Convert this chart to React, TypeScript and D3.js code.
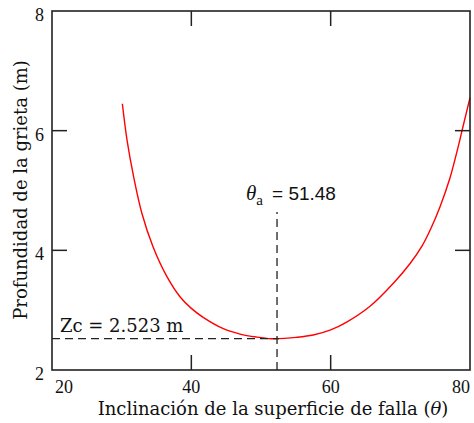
import React from 'react'
import * as d3 from 'd3'

// curva: inclinacion (grados) vs profundidad de grieta (m)
const theta = [30.1, 30.8, 31.7, 32.9, 34.5, 36.5, 38.4, 40, 41.7, 44.6, 47, 49.4, 51.48, 52.7, 55, 57.5, 60, 62.3, 65.6, 69, 71.4, 73.1, 74.4, 75.7, 77.1, 78.3, 79, 80]
const depth = [6.45, 5.82, 5.24, 4.62, 4.06, 3.56, 3.22, 3.03, 2.88, 2.69, 2.6, 2.55, 2.523, 2.525, 2.545, 2.585, 2.67, 2.8, 3.06, 3.45, 3.78, 4.07, 4.37, 4.73, 5.2, 5.73, 6.07, 6.55]

const xTicks = [20, 40, 60, 80]
const yTicks = [2, 4, 6, 8]

// marcadores
const zc = 2.523
const zcLabel = 'Zc = 2.523 m'
const thetaA = '51.48'
const thetaLineX = 52.3 // donde aparece la linea vertical en la figura
const thetaLineTop = 4.64

const W = 474
const H = 423
const frame = { left: 52, right: 470, top: 11, bottom: 370 }

export default function App() {
  const x = d3.scaleLinear().domain([20, 80]).range([frame.left, frame.right])
  const y = d3.scaleLinear().domain([2, 8]).range([frame.bottom, frame.top])

  const pts: [number, number][] = theta.map((t, i) => [t, depth[i]])
  const line = d3.line<[number, number]>()
    .x(d => x(d[0]))
    .y(d => y(d[1]))
    .curve(d3.curveCatmullRom)

  const tickLen = 15
  const serif = '"Liberation Serif", "Times New Roman", serif'
  const wide = '"DejaVu Serif", serif'

  return (
    <svg width={W} height={H} style={{ position: 'absolute', left: 0, top: 0, background: '#fff' }}>
      {/* curva */}
      <path d={line(pts) || ''} fill="none" stroke="#ff0000" strokeWidth={1.4} />

      {/* lineas de referencia */}
      <line x1={frame.left} x2={x(thetaLineX) + 2} y1={y(zc)} y2={y(zc)}
        stroke="#222" strokeWidth={1.3} strokeDasharray="8,5" />
      <line x1={x(thetaLineX)} x2={x(thetaLineX)} y1={frame.bottom} y2={y(thetaLineTop)}
        stroke="#222" strokeWidth={1.3} strokeDasharray="8,5" />

      {/* marco */}
      <rect x={frame.left} y={frame.top} width={frame.right - frame.left} height={frame.bottom - frame.top}
        fill="none" stroke="#222" strokeWidth={1.6} />

      {/* ticks interiores */}
      {xTicks.slice(1, -1).map(t => (
        <g key={'xt' + t}>
          <line x1={x(t)} x2={x(t)} y1={frame.bottom} y2={frame.bottom - tickLen} stroke="#222" strokeWidth={1.5} />
          <line x1={x(t)} x2={x(t)} y1={frame.top} y2={frame.top + tickLen} stroke="#222" strokeWidth={1.5} />
        </g>
      ))}
      {yTicks.slice(1, -1).map(t => (
        <g key={'yt' + t}>
          <line x1={frame.left} x2={frame.left + tickLen} y1={y(t)} y2={y(t)} stroke="#222" strokeWidth={1.5} />
          <line x1={frame.right} x2={frame.right - tickLen} y1={y(t)} y2={y(t)} stroke="#222" strokeWidth={1.5} />
        </g>
      ))}

      {/* etiquetas de ticks */}
      <g fontFamily={serif} fontSize={18} fill="#111">
        {xTicks.map((t, i) => (
          <text key={'xl' + t} x={i === 0 ? x(t) + 3 : x(t)} y={393}
            textAnchor={i === 0 ? 'start' : i === xTicks.length - 1 ? 'end' : 'middle'}>{t}</text>
        ))}
        {yTicks.map(t => (
          <text key={'yl' + t} x={44} y={y(t) + 10} textAnchor="end">{t}</text>
        ))}
      </g>

      {/* titulos */}
      <text x={273} y={415} textAnchor="middle" fontFamily={wide} fontSize={18} fill="#111">
        Inclinación de la superficie de falla (<tspan fontStyle="italic">θ</tspan>)
      </text>
      <text transform={`translate(27,190) rotate(-90)`} textAnchor="middle"
        fontFamily={wide} fontSize={18} fill="#111">
        Profundidad de la grieta (m)
      </text>

      {/* anotaciones */}
      <text x={60} y={332} fontFamily={wide} fontSize={18} fill="#111">{zcLabel}</text>
      <text x={246} y={200} fontFamily={serif} fontSize={21} fill="#111">
        <tspan fontStyle="italic">θ</tspan>
        <tspan fontSize={15} dx={0} dy={5}>a</tspan>
        <tspan x={272} dy={-5} fontFamily='"Liberation Sans", Arial, sans-serif' fontSize={19}>= {thetaA}</tspan>
      </text>
    </svg>
  )
}
